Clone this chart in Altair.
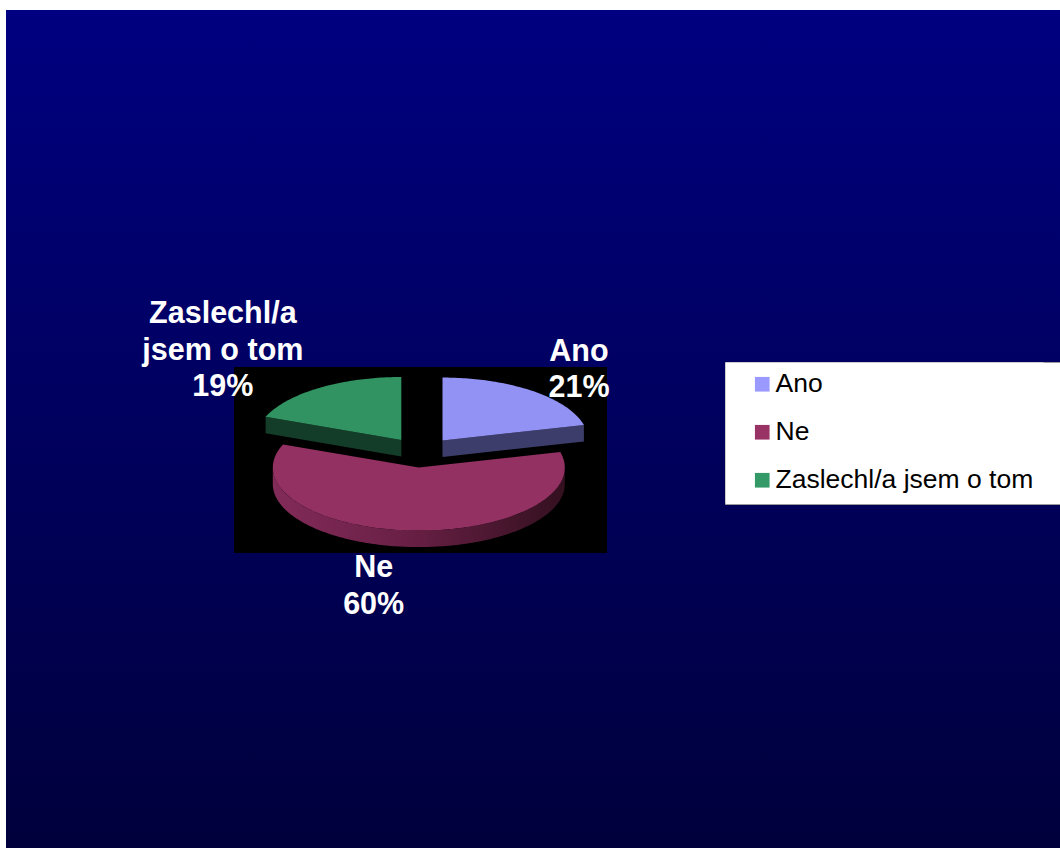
import math
import altair as alt
import pandas as pd

# ---------------- data ----------------
CATEGORIES = ["Ano", "Ne", "Zaslechl/a jsem o tom"]
PERCENTS = [21, 60, 19]
LABEL_NAMES = ["Ano", "Ne", "Zaslechl/a\njsem o tom"]

# ---------------- style ----------------
LEGEND_COLORS = ["#9999FF", "#993366", "#339966"]
WALL_COLORS = ["#3D3D6B", "#6A2046", "#143D29"]
RED_WALL_GRADIENT = alt.Gradient(
    gradient="linear",
    stops=[alt.GradientStop(color="#822B59", offset=0),
           alt.GradientStop(color="#6A2046", offset=0.45),
           alt.GradientStop(color="#33101F", offset=1)],
    x1=0, x2=1, y1=0, y2=0)
FONT = "Liberation Sans"

# ---------------- layout ----------------
W, H = 1054, 838
PAD_L, PAD_T = 6, 10
CX, CY = 421.0, 452.5
RX, RY = 146.0, 63.0
DEPTH = 16.5
EXPLODE = 0.24
LABEL_F = 2.0
LABEL_NUDGE = {"Ano": (-21, 8), "Ne": (-29, -1), "Zaslechl/a jsem o tom": (-34, -25)}
LEGEND_BOX = (725, 362, 1064, 504)  # page pixels: left, top, right, bottom

# ---------------- geometry derived from the values ----------------
total = float(sum(PERCENTS))
slices = []
start = 0.0
for cat, v in zip(CATEGORIES, PERCENTS):
    a0 = start
    a1 = start + 360.0 * v / total
    slices.append((cat, a0, a1))
    start = a1


def pt(ox, oy, a):
    r = math.radians(a)
    return (ox + RX * math.sin(r), oy - RY * math.cos(r))


def arc_angles(a0, a1):
    n = max(2, int(abs(a1 - a0)))
    return [a0 + (a1 - a0) * k / n for k in range(n + 1)]


top_rows, wall_rows, label_rows = [], [], []
for i, (cat, a0, a1) in enumerate(slices):
    m = math.radians((a0 + a1) / 2)
    ox = CX + EXPLODE * RX * math.sin(m)
    oy = CY - EXPLODE * RY * math.cos(m)
    poly = [(ox, oy)] + [pt(ox, oy, a) for a in arc_angles(a0, a1)] + [(ox, oy)]
    for k, (x, y) in enumerate(poly):
        top_rows.append(dict(cat=cat, poly=f"top{i}", k=k, x=x, y=y))
    walls = []
    if math.sin(math.radians(a0)) < -1e-9:
        p = pt(ox, oy, a0)
        walls.append([(ox, oy), p, (p[0], p[1] + DEPTH), (ox, oy + DEPTH)])
    if math.sin(math.radians(a1)) > 1e-9:
        p = pt(ox, oy, a1)
        walls.append([(ox, oy), p, (p[0], p[1] + DEPTH), (ox, oy + DEPTH)])
    lo, hi = max(a0, 90.0), min(a1, 270.0)
    if hi > lo:
        upper = [pt(ox, oy, a) for a in arc_angles(lo, hi)]
        lower = [(x, y + DEPTH) for x, y in reversed(upper)]
        walls.append(upper + lower)
    for j, w in enumerate(walls):
        for k, (x, y) in enumerate(w):
            wall_rows.append(dict(cat=cat, poly=f"wall{i}_{j}", k=k, x=x, y=y))
    nx, ny = LABEL_NUDGE[cat]
    label_rows.append(dict(
        cat=cat,
        x=CX + LABEL_F * RX * math.sin(m) + nx,
        y=CY - LABEL_F * RY * math.cos(m) + ny,
        text=f"{LABEL_NAMES[i]}\n{PERCENTS[i]}%"))

top_df = pd.DataFrame(top_rows)
wall_df = pd.DataFrame(wall_rows)
label_df = pd.DataFrame(label_rows)
one = pd.DataFrame({"a": [0]})

xs = alt.X("x:Q", scale=alt.Scale(domain=[PAD_L, PAD_L + W], nice=False, zero=False), axis=None)
ys = alt.Y("y:Q", scale=alt.Scale(domain=[PAD_T, PAD_T + H], reverse=True, nice=False, zero=False), axis=None)

legend = alt.Legend(
    title=None, orient="none",
    legendX=LEGEND_BOX[0] - PAD_L, legendY=LEGEND_BOX[1] - PAD_T,
    symbolType="square", symbolSize=215, symbolStrokeWidth=0,
    symbolOffset=15, labelOffset=0,
    labelFont=FONT, labelFontSize=26.5, labelColor="black", labelLimit=600,
    rowPadding=21, padding=9,
    fillColor="white", strokeColor="transparent",
)
fill_enc = alt.Fill("cat:N", scale=alt.Scale(domain=CATEGORIES, range=LEGEND_COLORS),
                    sort=CATEGORIES, legend=legend)

background = alt.Chart(one).mark_rect(
    fill=alt.Gradient(gradient="linear",
                      stops=[alt.GradientStop(color="#000080", offset=0),
                             alt.GradientStop(color="#00003C", offset=1)],
                      x1=0, x2=0, y1=0, y2=1)
).encode(x=alt.value(0), x2=alt.value(W), y=alt.value(0), y2=alt.value(H))

plot_area = alt.Chart(one).mark_rect(fill="black").encode(
    x=alt.value(234 - PAD_L), x2=alt.value(607 - PAD_L),
    y=alt.value(367 - PAD_T), y2=alt.value(553 - PAD_T))

legend_frame = alt.Chart(one).mark_rect(
    fill="white", stroke="#9a9a9a", strokeWidth=1
).encode(
    x=alt.value(LEGEND_BOX[0] - PAD_L + 0.5), x2=alt.value(LEGEND_BOX[2] - PAD_L),
    y=alt.value(LEGEND_BOX[1] - PAD_T + 0.5), y2=alt.value(LEGEND_BOX[3] - PAD_T + 0.5))

layers = [background, plot_area, legend_frame]
draw_order = [2, 0, 1]  # back slices first, front slice last
for i in draw_order:
    cat = CATEGORIES[i]
    wsub = wall_df[wall_df["cat"] == cat]
    if len(wsub):
        wall_fill = RED_WALL_GRADIENT if i == 1 else WALL_COLORS[i]
        layers.append(alt.Chart(wsub).mark_line(
            fill=wall_fill, stroke="transparent", strokeWidth=0, interpolate="linear"
        ).encode(x=xs, y=ys, detail="poly:N", order="k:Q"))
    tsub = top_df[top_df["cat"] == cat]
    layers.append(alt.Chart(tsub).mark_line(
        stroke="transparent", strokeWidth=0, fillOpacity=0.955, interpolate="linear"
    ).encode(x=xs, y=ys, fill=fill_enc, detail="poly:N", order="k:Q"))

labels = alt.Chart(label_df).mark_text(
    font=FONT, fontSize=30.5, fontWeight="bold", color="white",
    lineBreak="\n", lineHeight=36.5, align="center", baseline="alphabetic"
).encode(x=xs, y=ys, text="text:N")
layers.append(labels)

chart = alt.layer(*layers).properties(
    width=W, height=H,
    padding={"left": PAD_L, "top": PAD_T, "right": 0, "bottom": 0},
    autosize="none", background="white",
).configure_view(stroke=None)

chart.save("out.html", embed_options={"renderer": "svg", "actions": False})
